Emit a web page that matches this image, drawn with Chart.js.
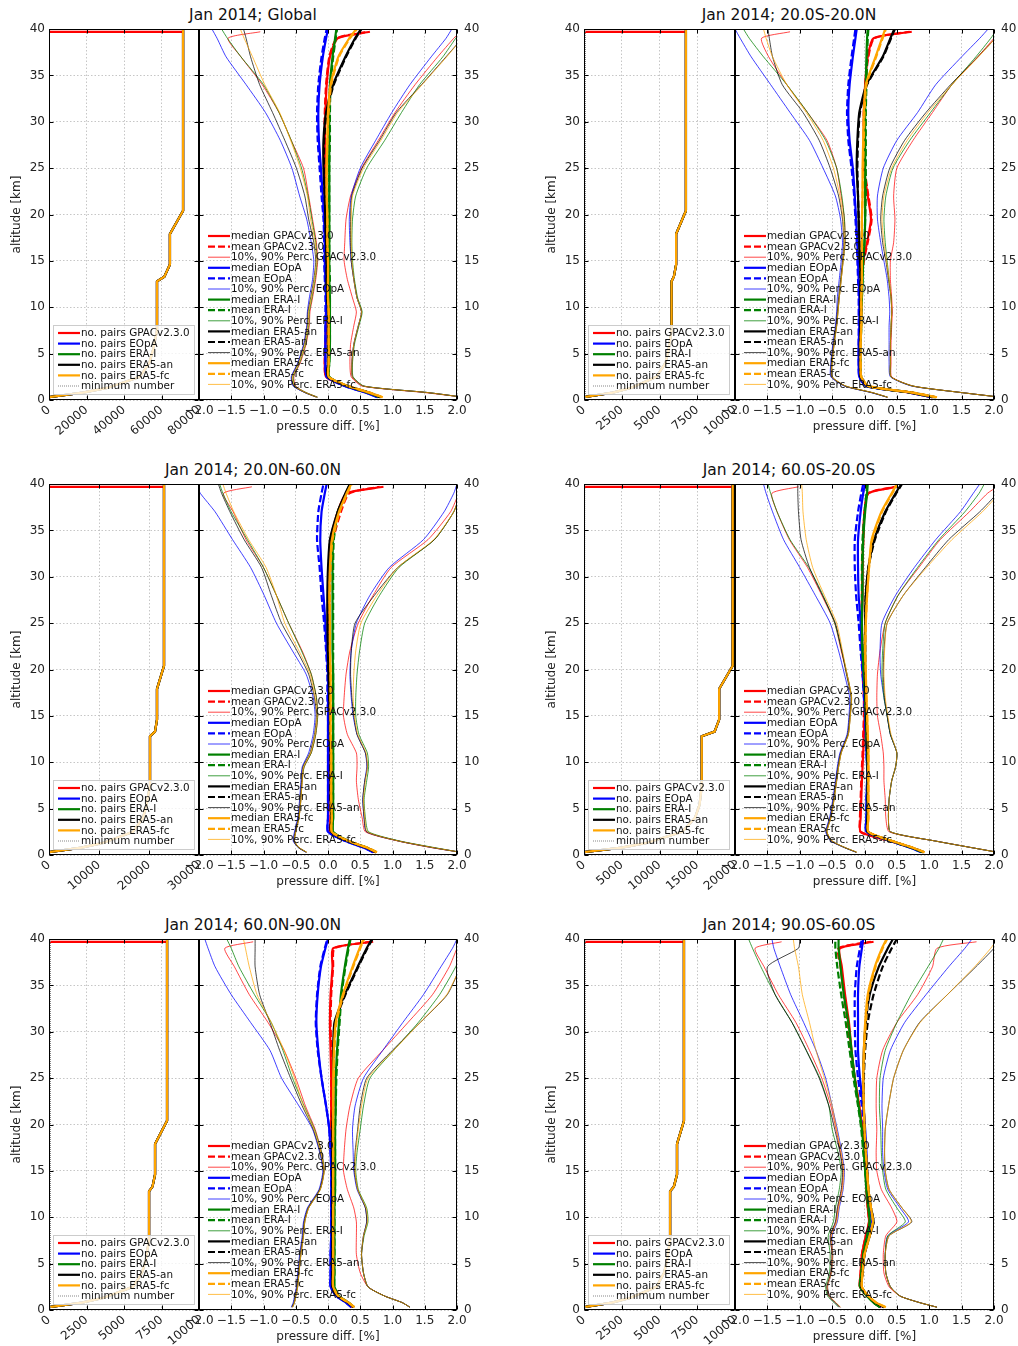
<!DOCTYPE html>
<html>
<head>
<meta charset="utf-8">
<script src="https://cdn.jsdelivr.net/npm/chart.js@4.4.1/dist/chart.umd.min.js"></script>
<style>
  body { margin: 0; background: #fff; }
  #page { position: relative; width: 1018px; height: 1346px; overflow: hidden; font-family: "DejaVu Sans", sans-serif; }
  #page canvas { position: absolute; }
  .title { position: absolute; text-align: center; font-size: 15.5px; line-height: 20px; color: #111; }
</style>
</head>
<body>
<div id="page"></div>
<script>
// ---- data ----
const sources = ["GPACv2.3.0", "EOpA", "ERA-I", "ERA5-an", "ERA5-fc"];
const panelTitles = ["Jan 2014; Global", "Jan 2014; 20.0S-20.0N", "Jan 2014; 20.0N-60.0N",
                     "Jan 2014; 60.0S-20.0S", "Jan 2014; 60.0N-90.0N", "Jan 2014; 90.0S-60.0S"];

// altitude levels [km] of the pressure difference profiles (GPAC stops at 39.7 km)
const altitudes     = [0.3, 0.8, 1.5, 2.5, 4, 6, 8, 9.5, 11, 13, 15, 17, 19.5, 22, 25, 28, 31, 34, 37, 39, 40];
const gpacAltitudes = [0.3, 0.8, 1.5, 2.5, 4, 6, 8, 9.5, 11, 13, 15, 17, 19.5, 22, 25, 28, 31, 34, 37, 39, 39.7];

// number of pairs profiles
const pairAlt     = [0.3, 0.8, 1.3, 2.5, 4, 5.4, 7.5, 12.8, 13.3, 14.6, 17.9, 20.4, 40];
const gpacPairAlt = [0.3, 0.8, 1.3, 2.5, 4, 5.4, 7.5, 12.8, 13.3, 14.6, 17.9, 20.4, 39.7, 39.7, 40];
const globalPairs         = [0, 18000, 31000, 48500, 53500, 55500, 57600, 57600, 61500, 64500, 64500, 71500, 71500];
const globalGpacPairs     = [0, 18000, 31000, 48500, 53500, 55500, 57600, 57600, 61500, 64500, 64500, 71500, 71500, 0, 0];
const tropicsPairs        = [0, 1900, 3100, 4800, 5400, 5600, 5800, 5800, 5950, 6100, 6100, 6750, 6750];
const tropicsGpacPairs    = [0, 1900, 3100, 4800, 5400, 5600, 5800, 5800, 5950, 6100, 6100, 6750, 6750, 0, 0];
const northMidPairs       = [0, 6500, 10800, 16800, 18800, 19500, 20200, 20200, 21200, 21600, 21600, 23000, 23000];
const northMidGpacPairs   = [0, 6500, 10800, 16800, 18800, 19500, 20200, 20200, 21200, 21600, 21600, 23000, 23000, 0, 0];
const southMidPairs       = [0, 5000, 8300, 13000, 14700, 15300, 15600, 15600, 17300, 17900, 17900, 19700, 19700];
const southMidGpacPairs   = [0, 5000, 8300, 13000, 14700, 15300, 15600, 15600, 17300, 17900, 17900, 19700, 19700, 0, 0];
const northPolarPairs     = [0, 2200, 3600, 5600, 6200, 6450, 6670, 6670, 6900, 7070, 7070, 7870, 7870];
const northPolarGpacPairs = [0, 2200, 3600, 5600, 6200, 6450, 6670, 6670, 6900, 7070, 7070, 7870, 7870, 0, 0];
const southPolarPairs     = [0, 1850, 3050, 4800, 5300, 5500, 5700, 5700, 5950, 6160, 6160, 6620, 6620];
const southPolarGpacPairs = [0, 1850, 3050, 4800, 5300, 5500, 5700, 5700, 5950, 6160, 6160, 6620, 6620, 0, 0];
const minimumPairsAlt = [0, 40];
const minimumPairs = [100, 100];
const pairAxisMax  = [80000, 10000, 30000, 20000, 10000, 10000];
const pairAxisStep = [20000, 2500, 10000, 5000, 2500, 2500];
const diffTicks = [-2.0, -1.5, -1.0, -0.5, 0.0, 0.5, 1.0, 1.5, 2.0];

// pressure diff [%]; rows: GPAC, EOpA, ERA-I, ERA5-an, ERA5-fc
const globalMedian = [
  [0.78, 0.6, 0.28, -0.03, -0.05, -0.04, -0.03, -0.03, -0.02, -0.02, -0.02, -0.03, -0.04, -0.05, -0.05, -0.05, -0.04, -0.02, 0.03, 0.15, 0.65],
  [0.76, 0.58, 0.26, -0.02, -0.04, -0.04, -0.04, -0.03, -0.03, -0.04, -0.05, -0.05, -0.06, -0.08, -0.11, -0.14, -0.15, -0.13, -0.08, -0.03, 0.0],
  [0.8, 0.62, 0.3, 0.02, 0.02, 0.03, 0.03, 0.03, 0.03, 0.02, 0.02, 0.02, 0.02, 0.02, 0.02, 0.02, 0.02, 0.03, 0.07, 0.11, 0.13],
  [0.82, 0.63, 0.3, 0.0, 0.0, 0.0, 0.0, 0.0, -0.01, -0.02, -0.02, -0.03, -0.04, -0.05, -0.07, -0.07, -0.03, 0.08, 0.27, 0.42, 0.51],
  [0.84, 0.64, 0.31, 0.01, 0.01, 0.01, 0.01, 0.01, 0.0, 0.0, 0.0, -0.01, -0.01, -0.02, -0.02, -0.01, 0.0, 0.04, 0.16, 0.33, 0.44]];
const globalMean = [
  [0.8, 0.61, 0.28, -0.03, -0.05, -0.04, -0.03, -0.03, -0.02, -0.02, -0.03, -0.03, -0.04, -0.05, -0.06, -0.06, -0.05, -0.03, 0.02, 0.14, 0.62],
  [0.77, 0.59, 0.26, -0.02, -0.04, -0.04, -0.04, -0.04, -0.04, -0.05, -0.06, -0.06, -0.07, -0.1, -0.13, -0.16, -0.17, -0.15, -0.1, -0.05, -0.02],
  [0.81, 0.62, 0.3, 0.02, 0.02, 0.03, 0.03, 0.03, 0.03, 0.03, 0.02, 0.02, 0.02, 0.02, 0.02, 0.03, 0.03, 0.04, 0.08, 0.12, 0.14],
  [0.83, 0.64, 0.31, 0.0, 0.0, 0.0, 0.0, 0.0, -0.01, -0.02, -0.02, -0.03, -0.04, -0.05, -0.06, -0.06, -0.02, 0.09, 0.28, 0.43, 0.52],
  [0.85, 0.65, 0.31, 0.01, 0.01, 0.01, 0.01, 0.01, 0.0, 0.0, 0.0, -0.01, -0.01, -0.02, -0.02, -0.01, 0.01, 0.05, 0.17, 0.34, 0.45]];
const globalP10 = [
  [-0.16, -0.34, -0.5, -0.53, -0.43, -0.34, -0.29, -0.28, -0.24, -0.19, -0.16, -0.18, -0.24, -0.3, -0.38, -0.57, -0.76, -1.02, -1.35, -1.55, -1.05],
  [-0.17, -0.36, -0.54, -0.57, -0.47, -0.38, -0.33, -0.32, -0.29, -0.24, -0.22, -0.26, -0.33, -0.44, -0.56, -0.74, -0.97, -1.27, -1.58, -1.72, -1.8],
  [-0.16, -0.34, -0.51, -0.54, -0.44, -0.35, -0.3, -0.29, -0.25, -0.2, -0.17, -0.19, -0.25, -0.31, -0.41, -0.57, -0.76, -1.0, -1.35, -1.56, -1.65],
  [-0.18, -0.36, -0.53, -0.56, -0.46, -0.37, -0.32, -0.31, -0.27, -0.22, -0.19, -0.22, -0.3, -0.36, -0.49, -0.67, -0.86, -1.06, -1.2, -1.27, -1.31],
  [-0.17, -0.35, -0.52, -0.55, -0.45, -0.36, -0.31, -0.3, -0.26, -0.21, -0.18, -0.2, -0.27, -0.32, -0.43, -0.58, -0.75, -0.98, -1.17, -1.3, -1.36]];
const globalP90 = [
  [2.1, 1.5, 0.53, 0.36, 0.34, 0.35, 0.4, 0.44, 0.38, 0.3, 0.25, 0.26, 0.28, 0.35, 0.52, 0.78, 1.04, 1.35, 1.7, 1.95, 2.05],
  [2.1, 1.55, 0.55, 0.38, 0.37, 0.4, 0.47, 0.52, 0.45, 0.4, 0.36, 0.34, 0.33, 0.36, 0.5, 0.74, 0.99, 1.27, 1.6, 1.83, 1.92],
  [2.1, 1.55, 0.56, 0.39, 0.38, 0.41, 0.48, 0.53, 0.46, 0.41, 0.38, 0.37, 0.38, 0.43, 0.6, 0.88, 1.14, 1.42, 1.78, 1.98, 2.08],
  [2.1, 1.55, 0.55, 0.38, 0.37, 0.4, 0.47, 0.52, 0.45, 0.4, 0.36, 0.35, 0.35, 0.37, 0.53, 0.8, 1.06, 1.45, 1.83, 2.08, 2.2],
  [2.1, 1.55, 0.55, 0.38, 0.37, 0.4, 0.47, 0.52, 0.45, 0.4, 0.37, 0.36, 0.36, 0.38, 0.55, 0.82, 1.08, 1.46, 1.84, 2.08, 2.2]];

const tropicsMedian = [
  [1.05, 0.7, 0.05, -0.06, -0.07, -0.07, -0.06, -0.05, -0.05, -0.04, -0.02, 0.04, 0.1, 0.05, -0.01, -0.01, -0.01, 0.01, 0.05, 0.14, 0.73],
  [1.05, 0.7, 0.03, -0.08, -0.09, -0.09, -0.08, -0.08, -0.08, -0.09, -0.1, -0.11, -0.13, -0.15, -0.18, -0.23, -0.25, -0.23, -0.18, -0.14, -0.12],
  [1.08, 0.72, 0.05, -0.05, -0.06, -0.06, -0.05, -0.05, -0.04, -0.03, -0.02, 0.0, 0.01, 0.01, 0.01, 0.01, 0.01, 0.02, 0.03, 0.04, 0.05],
  [1.1, 0.73, 0.05, -0.06, -0.07, -0.07, -0.06, -0.06, -0.06, -0.06, -0.07, -0.08, -0.09, -0.1, -0.12, -0.11, -0.08, 0.03, 0.28, 0.4, 0.46],
  [1.11, 0.74, 0.06, -0.05, -0.06, -0.06, -0.05, -0.05, -0.05, -0.04, -0.04, -0.04, -0.04, -0.03, -0.03, -0.02, -0.01, 0.02, 0.17, 0.27, 0.32]];
const tropicsMean = [
  [1.06, 0.71, 0.05, -0.05, -0.07, -0.07, -0.06, -0.05, -0.05, -0.04, -0.01, 0.05, 0.11, 0.06, 0.0, -0.01, -0.01, 0.01, 0.06, 0.15, 0.7],
  [1.05, 0.7, 0.03, -0.08, -0.09, -0.09, -0.09, -0.09, -0.09, -0.1, -0.11, -0.12, -0.14, -0.16, -0.2, -0.25, -0.27, -0.25, -0.2, -0.16, -0.14],
  [1.08, 0.72, 0.05, -0.05, -0.06, -0.06, -0.05, -0.05, -0.04, -0.03, -0.02, 0.0, 0.01, 0.02, 0.02, 0.02, 0.02, 0.03, 0.04, 0.05, 0.06],
  [1.1, 0.73, 0.05, -0.06, -0.07, -0.07, -0.06, -0.06, -0.06, -0.06, -0.07, -0.08, -0.09, -0.1, -0.11, -0.1, -0.07, 0.04, 0.29, 0.41, 0.47],
  [1.12, 0.75, 0.06, -0.05, -0.06, -0.06, -0.05, -0.05, -0.05, -0.04, -0.04, -0.04, -0.04, -0.03, -0.02, -0.01, 0.0, 0.03, 0.18, 0.28, 0.33]];
const tropicsP10 = [
  [0.36, 0.12, -0.29, -0.5, -0.5, -0.47, -0.43, -0.41, -0.39, -0.36, -0.33, -0.3, -0.31, -0.36, -0.43, -0.58, -0.88, -1.2, -1.48, -1.59, -1.15],
  [0.35, 0.1, -0.31, -0.52, -0.52, -0.49, -0.45, -0.43, -0.42, -0.39, -0.36, -0.34, -0.37, -0.45, -0.64, -0.85, -1.15, -1.45, -1.75, -1.92, -2.0],
  [0.36, 0.12, -0.29, -0.5, -0.5, -0.47, -0.43, -0.41, -0.39, -0.36, -0.33, -0.3, -0.31, -0.35, -0.43, -0.6, -0.88, -1.2, -1.56, -1.78, -1.87],
  [0.35, 0.11, -0.3, -0.51, -0.51, -0.48, -0.44, -0.42, -0.4, -0.37, -0.34, -0.32, -0.34, -0.4, -0.53, -0.7, -0.95, -1.27, -1.42, -1.47, -1.49],
  [0.36, 0.12, -0.29, -0.5, -0.5, -0.47, -0.43, -0.41, -0.39, -0.36, -0.33, -0.31, -0.33, -0.38, -0.48, -0.64, -0.9, -1.2, -1.42, -1.52, -1.56]];
const tropicsP90 = [
  [2.1, 1.5, 0.75, 0.42, 0.41, 0.41, 0.42, 0.43, 0.42, 0.4, 0.4, 0.45, 0.47, 0.45, 0.5, 0.75, 1.05, 1.35, 1.75, 2.0, 2.1],
  [2.1, 1.5, 0.73, 0.4, 0.38, 0.38, 0.38, 0.39, 0.38, 0.35, 0.3, 0.25, 0.2, 0.2, 0.29, 0.5, 0.82, 1.1, 1.5, 1.78, 1.91],
  [2.1, 1.5, 0.75, 0.41, 0.4, 0.4, 0.41, 0.42, 0.41, 0.38, 0.35, 0.32, 0.3, 0.33, 0.44, 0.7, 1.02, 1.35, 1.72, 1.95, 2.05],
  [2.1, 1.5, 0.75, 0.41, 0.4, 0.4, 0.41, 0.42, 0.41, 0.37, 0.33, 0.28, 0.25, 0.28, 0.39, 0.62, 0.95, 1.33, 1.75, 2.02, 2.12],
  [2.1, 1.5, 0.75, 0.41, 0.4, 0.4, 0.41, 0.42, 0.41, 0.38, 0.34, 0.3, 0.27, 0.3, 0.42, 0.66, 0.98, 1.35, 1.76, 2.02, 2.12]];

const northMidMedian = [
  [0.73, 0.58, 0.3, 0.04, 0.04, 0.04, 0.04, 0.04, 0.04, 0.03, 0.03, 0.02, 0.02, 0.02, 0.02, 0.02, 0.02, 0.04, 0.15, 0.29, 0.86],
  [0.7, 0.55, 0.27, 0.0, 0.0, 0.0, 0.0, 0.0, 0.0, 0.0, 0.0, 0.0, 0.0, -0.02, -0.04, -0.07, -0.1, -0.12, -0.1, -0.05, -0.02],
  [0.75, 0.6, 0.32, 0.08, 0.08, 0.08, 0.08, 0.08, 0.08, 0.08, 0.08, 0.08, 0.08, 0.07, 0.07, 0.07, 0.07, 0.08, 0.15, 0.28, 0.34],
  [0.74, 0.59, 0.31, 0.05, 0.05, 0.04, 0.04, 0.04, 0.04, 0.03, 0.03, 0.02, 0.01, 0.0, -0.01, -0.01, 0.0, 0.03, 0.15, 0.27, 0.34],
  [0.75, 0.6, 0.32, 0.06, 0.06, 0.05, 0.05, 0.05, 0.05, 0.04, 0.04, 0.04, 0.04, 0.03, 0.03, 0.02, 0.03, 0.06, 0.17, 0.29, 0.36]];
const northMidMean = [
  [0.74, 0.58, 0.3, 0.04, 0.04, 0.04, 0.04, 0.04, 0.04, 0.03, 0.03, 0.02, 0.02, 0.02, 0.02, 0.03, 0.04, 0.08, 0.2, 0.33, 0.8],
  [0.7, 0.55, 0.27, 0.0, 0.0, 0.0, 0.0, 0.0, 0.0, 0.0, 0.0, -0.01, -0.01, -0.03, -0.06, -0.1, -0.13, -0.17, -0.15, -0.1, -0.07],
  [0.75, 0.6, 0.32, 0.08, 0.08, 0.08, 0.08, 0.08, 0.08, 0.08, 0.08, 0.08, 0.08, 0.08, 0.08, 0.08, 0.08, 0.09, 0.16, 0.29, 0.35],
  [0.74, 0.59, 0.31, 0.05, 0.05, 0.04, 0.04, 0.04, 0.04, 0.03, 0.03, 0.02, 0.01, 0.0, 0.0, 0.0, 0.01, 0.04, 0.16, 0.28, 0.35],
  [0.76, 0.61, 0.32, 0.06, 0.06, 0.05, 0.05, 0.05, 0.05, 0.04, 0.04, 0.04, 0.04, 0.03, 0.03, 0.03, 0.04, 0.07, 0.18, 0.3, 0.37]];
const northMidP10 = [
  [-0.33, -0.45, -0.52, -0.5, -0.45, -0.42, -0.4, -0.37, -0.26, -0.19, -0.16, -0.18, -0.26, -0.4, -0.61, -0.8, -1.0, -1.27, -1.47, -1.62, -1.18],
  [-0.34, -0.46, -0.54, -0.52, -0.47, -0.44, -0.42, -0.4, -0.3, -0.23, -0.2, -0.23, -0.34, -0.55, -0.8, -0.99, -1.2, -1.48, -1.75, -1.98, -2.05],
  [-0.33, -0.45, -0.52, -0.5, -0.45, -0.42, -0.4, -0.37, -0.26, -0.19, -0.16, -0.18, -0.26, -0.41, -0.61, -0.8, -1.0, -1.25, -1.5, -1.63, -1.68],
  [-0.34, -0.46, -0.53, -0.51, -0.46, -0.43, -0.41, -0.39, -0.28, -0.21, -0.18, -0.21, -0.3, -0.48, -0.72, -0.88, -1.03, -1.3, -1.52, -1.65, -1.7],
  [-0.33, -0.45, -0.52, -0.5, -0.45, -0.42, -0.4, -0.38, -0.27, -0.2, -0.17, -0.2, -0.28, -0.45, -0.67, -0.8, -0.96, -1.23, -1.46, -1.58, -1.63]];
const northMidP90 = [
  [2.05, 1.6, 1.09, 0.58, 0.53, 0.47, 0.44, 0.45, 0.44, 0.3, 0.24, 0.25, 0.28, 0.34, 0.47, 0.7, 0.98, 1.55, 1.9, 2.03, 2.1],
  [2.05, 1.62, 1.1, 0.6, 0.56, 0.54, 0.57, 0.6, 0.58, 0.45, 0.39, 0.36, 0.34, 0.36, 0.44, 0.65, 0.95, 1.48, 1.8, 1.95, 2.0],
  [2.05, 1.65, 1.12, 0.63, 0.58, 0.56, 0.6, 0.63, 0.61, 0.48, 0.43, 0.43, 0.45, 0.49, 0.57, 0.8, 1.1, 1.65, 1.95, 2.05, 2.1],
  [2.05, 1.62, 1.1, 0.6, 0.56, 0.54, 0.57, 0.61, 0.58, 0.45, 0.4, 0.37, 0.35, 0.36, 0.42, 0.72, 1.08, 1.65, 1.95, 2.05, 2.1],
  [2.05, 1.63, 1.1, 0.61, 0.57, 0.55, 0.58, 0.61, 0.59, 0.46, 0.41, 0.39, 0.4, 0.43, 0.51, 0.76, 1.08, 1.64, 1.95, 2.05, 2.1]];

const southMidMedian = [
  [0.9, 0.72, 0.4, -0.06, -0.06, -0.05, -0.04, -0.03, -0.02, -0.01, 0.0, 0.0, -0.02, -0.03, -0.04, -0.03, -0.03, -0.02, 0.0, 0.06, 0.5],
  [0.88, 0.7, 0.4, 0.03, 0.03, 0.03, 0.04, 0.04, 0.03, 0.02, 0.01, 0.0, -0.02, -0.04, -0.06, -0.09, -0.1, -0.1, -0.06, -0.02, 0.01],
  [0.9, 0.72, 0.42, 0.05, 0.05, 0.05, 0.05, 0.05, 0.04, 0.03, 0.02, 0.01, -0.01, -0.03, -0.04, -0.03, -0.03, -0.02, 0.01, 0.04, 0.05],
  [0.92, 0.73, 0.42, 0.05, 0.05, 0.05, 0.05, 0.05, 0.05, 0.04, 0.03, 0.02, 0.01, 0.01, 0.01, 0.02, 0.06, 0.15, 0.32, 0.48, 0.57],
  [0.92, 0.74, 0.43, 0.06, 0.06, 0.06, 0.06, 0.06, 0.06, 0.05, 0.04, 0.03, 0.02, 0.01, 0.02, 0.04, 0.07, 0.11, 0.26, 0.42, 0.5]];
const southMidMean = [
  [0.9, 0.72, 0.4, -0.06, -0.07, -0.06, -0.05, -0.04, -0.03, -0.02, -0.01, -0.01, -0.03, -0.04, -0.05, -0.04, -0.03, -0.02, 0.0, 0.06, 0.47],
  [0.88, 0.7, 0.4, 0.03, 0.03, 0.03, 0.04, 0.04, 0.03, 0.02, 0.01, -0.01, -0.03, -0.06, -0.09, -0.13, -0.15, -0.15, -0.1, -0.05, -0.02],
  [0.9, 0.72, 0.42, 0.05, 0.05, 0.05, 0.05, 0.05, 0.04, 0.03, 0.02, 0.01, -0.01, -0.03, -0.04, -0.04, -0.04, -0.03, 0.0, 0.03, 0.04],
  [0.92, 0.73, 0.42, 0.05, 0.05, 0.05, 0.05, 0.05, 0.05, 0.04, 0.03, 0.02, 0.01, 0.01, 0.01, 0.02, 0.06, 0.16, 0.33, 0.49, 0.58],
  [0.93, 0.74, 0.43, 0.06, 0.06, 0.06, 0.06, 0.06, 0.06, 0.05, 0.04, 0.03, 0.02, 0.01, 0.02, 0.04, 0.07, 0.12, 0.27, 0.43, 0.51]];
const southMidP10 = [
  [-0.12, -0.3, -0.5, -0.58, -0.52, -0.47, -0.43, -0.4, -0.36, -0.25, -0.22, -0.2, -0.27, -0.36, -0.46, -0.66, -0.88, -1.16, -1.35, -1.43, -1.02],
  [-0.13, -0.31, -0.52, -0.6, -0.54, -0.49, -0.45, -0.42, -0.38, -0.27, -0.24, -0.23, -0.31, -0.4, -0.53, -0.76, -1.0, -1.25, -1.42, -1.52, -1.56],
  [-0.12, -0.3, -0.5, -0.58, -0.52, -0.47, -0.43, -0.4, -0.36, -0.25, -0.22, -0.2, -0.27, -0.35, -0.46, -0.64, -0.86, -1.15, -1.35, -1.45, -1.49],
  [-0.13, -0.31, -0.51, -0.59, -0.53, -0.48, -0.44, -0.41, -0.37, -0.26, -0.23, -0.21, -0.28, -0.35, -0.45, -0.65, -0.85, -0.98, -1.02, -1.03, -1.03],
  [-0.12, -0.3, -0.5, -0.58, -0.52, -0.47, -0.43, -0.4, -0.36, -0.25, -0.22, -0.2, -0.27, -0.34, -0.43, -0.62, -0.8, -0.9, -0.95, -0.96, -0.97]];
const southMidP90 = [
  [2.05, 1.65, 1.1, 0.38, 0.33, 0.32, 0.3, 0.3, 0.29, 0.25, 0.2, 0.19, 0.2, 0.24, 0.32, 0.52, 0.84, 1.17, 1.62, 1.9, 2.05],
  [2.05, 1.65, 1.1, 0.4, 0.37, 0.38, 0.42, 0.48, 0.5, 0.4, 0.35, 0.3, 0.25, 0.24, 0.27, 0.48, 0.77, 1.1, 1.48, 1.68, 1.78],
  [2.05, 1.65, 1.1, 0.4, 0.37, 0.38, 0.42, 0.48, 0.5, 0.4, 0.35, 0.3, 0.27, 0.28, 0.32, 0.52, 0.82, 1.15, 1.55, 1.77, 1.85],
  [2.05, 1.65, 1.1, 0.4, 0.37, 0.38, 0.42, 0.48, 0.5, 0.4, 0.35, 0.31, 0.29, 0.3, 0.35, 0.6, 0.94, 1.3, 1.78, 2.05, 2.15],
  [2.05, 1.65, 1.1, 0.4, 0.37, 0.38, 0.42, 0.48, 0.5, 0.41, 0.36, 0.32, 0.3, 0.31, 0.35, 0.6, 0.96, 1.35, 1.82, 2.08, 2.15]];

const northPolarMedian = [
  [0.38, 0.3, 0.15, 0.06, 0.06, 0.06, 0.07, 0.07, 0.07, 0.07, 0.07, 0.06, 0.05, 0.05, 0.05, 0.04, 0.03, 0.04, 0.07, 0.08, 0.7],
  [0.36, 0.28, 0.13, 0.04, 0.04, 0.04, 0.05, 0.05, 0.05, 0.05, 0.05, 0.04, 0.02, -0.03, -0.1, -0.15, -0.18, -0.16, -0.11, -0.04, 0.0],
  [0.4, 0.32, 0.17, 0.1, 0.1, 0.1, 0.1, 0.1, 0.1, 0.11, 0.11, 0.11, 0.11, 0.12, 0.12, 0.14, 0.17, 0.2, 0.26, 0.31, 0.34],
  [0.4, 0.31, 0.15, 0.07, 0.07, 0.07, 0.07, 0.07, 0.07, 0.07, 0.07, 0.07, 0.07, 0.08, 0.08, 0.08, 0.1, 0.26, 0.46, 0.6, 0.68],
  [0.41, 0.32, 0.16, 0.08, 0.08, 0.08, 0.08, 0.08, 0.08, 0.08, 0.08, 0.08, 0.08, 0.08, 0.08, 0.09, 0.12, 0.23, 0.38, 0.49, 0.55]];
const northPolarMean = [
  [0.39, 0.3, 0.15, 0.06, 0.06, 0.06, 0.07, 0.07, 0.07, 0.07, 0.07, 0.06, 0.05, 0.05, 0.05, 0.05, 0.04, 0.05, 0.08, 0.1, 0.66],
  [0.36, 0.28, 0.13, 0.04, 0.04, 0.04, 0.05, 0.05, 0.05, 0.05, 0.05, 0.04, 0.02, -0.03, -0.1, -0.16, -0.19, -0.17, -0.12, -0.05, -0.01],
  [0.4, 0.32, 0.17, 0.1, 0.1, 0.1, 0.1, 0.1, 0.1, 0.11, 0.11, 0.11, 0.11, 0.12, 0.13, 0.15, 0.18, 0.21, 0.27, 0.32, 0.35],
  [0.41, 0.31, 0.15, 0.07, 0.07, 0.07, 0.07, 0.07, 0.07, 0.07, 0.07, 0.07, 0.07, 0.08, 0.08, 0.09, 0.11, 0.27, 0.47, 0.61, 0.69],
  [0.41, 0.32, 0.16, 0.08, 0.08, 0.08, 0.08, 0.08, 0.08, 0.08, 0.08, 0.08, 0.08, 0.08, 0.09, 0.1, 0.13, 0.24, 0.39, 0.5, 0.56]];
const northPolarP10 = [
  [-0.55, -0.52, -0.5, -0.47, -0.45, -0.42, -0.38, -0.36, -0.3, -0.12, -0.06, -0.1, -0.2, -0.35, -0.5, -0.68, -0.93, -1.22, -1.45, -1.6, -1.16],
  [-0.57, -0.54, -0.52, -0.49, -0.47, -0.44, -0.4, -0.38, -0.32, -0.14, -0.08, -0.13, -0.24, -0.45, -0.72, -0.9, -1.2, -1.5, -1.75, -1.86, -1.91],
  [-0.55, -0.52, -0.5, -0.47, -0.45, -0.42, -0.38, -0.36, -0.3, -0.12, -0.06, -0.1, -0.21, -0.37, -0.55, -0.7, -0.88, -1.14, -1.38, -1.5, -1.57],
  [-0.56, -0.53, -0.51, -0.48, -0.46, -0.43, -0.39, -0.37, -0.31, -0.13, -0.07, -0.12, -0.23, -0.4, -0.58, -0.75, -0.9, -1.06, -1.13, -1.13, -1.13],
  [-0.55, -0.52, -0.5, -0.47, -0.45, -0.42, -0.38, -0.36, -0.3, -0.12, -0.06, -0.11, -0.22, -0.38, -0.52, -0.68, -0.88, -1.1, -1.22, -1.28, -1.31]];
const northPolarP90 = [
  [1.27, 1.15, 0.88, 0.62, 0.5, 0.44, 0.44, 0.44, 0.4, 0.3, 0.24, 0.25, 0.28, 0.34, 0.47, 0.85, 1.24, 1.62, 1.88, 2.0, 2.05],
  [1.27, 1.15, 0.88, 0.62, 0.55, 0.52, 0.55, 0.6, 0.58, 0.45, 0.4, 0.39, 0.38, 0.42, 0.55, 0.85, 1.16, 1.48, 1.75, 1.93, 2.0],
  [1.27, 1.15, 0.88, 0.62, 0.55, 0.52, 0.56, 0.62, 0.6, 0.47, 0.43, 0.45, 0.5, 0.55, 0.65, 1.02, 1.4, 1.73, 1.98, 2.1, 2.15],
  [1.27, 1.15, 0.88, 0.62, 0.55, 0.52, 0.55, 0.6, 0.58, 0.46, 0.41, 0.42, 0.46, 0.5, 0.6, 1.0, 1.43, 1.85, 2.05, 2.15, 2.2],
  [1.27, 1.15, 0.88, 0.62, 0.55, 0.52, 0.55, 0.61, 0.59, 0.46, 0.42, 0.43, 0.47, 0.52, 0.62, 1.02, 1.43, 1.84, 2.05, 2.15, 2.2]];

const southPolarMedian = [
  [0.25, 0.15, 0.05, -0.07, -0.06, -0.04, 0.02, 0.07, 0.05, 0.03, 0.02, 0.0, -0.03, -0.08, -0.15, -0.2, -0.24, -0.3, -0.35, -0.38, 0.14],
  [0.25, 0.15, 0.05, -0.05, -0.03, 0.0, 0.06, 0.11, 0.08, 0.05, 0.04, 0.03, 0.01, -0.02, -0.07, -0.1, -0.1, -0.1, -0.08, -0.04, -0.02],
  [0.24, 0.14, 0.04, -0.07, -0.05, -0.02, 0.04, 0.08, 0.06, 0.03, 0.01, -0.01, -0.04, -0.09, -0.15, -0.2, -0.25, -0.32, -0.37, -0.4, -0.4],
  [0.3, 0.17, 0.06, -0.05, -0.03, 0.0, 0.08, 0.14, 0.1, 0.06, 0.04, 0.02, 0.0, -0.01, -0.02, -0.01, 0.02, 0.08, 0.22, 0.36, 0.44],
  [0.32, 0.18, 0.06, -0.04, -0.03, 0.0, 0.08, 0.13, 0.1, 0.06, 0.04, 0.02, 0.0, -0.01, -0.02, -0.01, 0.01, 0.05, 0.16, 0.27, 0.34]];
const southPolarMean = [
  [0.26, 0.15, 0.05, -0.07, -0.06, -0.04, 0.02, 0.07, 0.05, 0.03, 0.02, 0.0, -0.03, -0.08, -0.15, -0.21, -0.26, -0.32, -0.37, -0.4, 0.1],
  [0.25, 0.15, 0.05, -0.05, -0.03, 0.0, 0.06, 0.11, 0.08, 0.05, 0.04, 0.02, 0.0, -0.04, -0.1, -0.14, -0.15, -0.15, -0.12, -0.07, -0.04],
  [0.24, 0.14, 0.04, -0.07, -0.05, -0.02, 0.04, 0.08, 0.06, 0.03, 0.01, -0.02, -0.05, -0.1, -0.17, -0.23, -0.29, -0.36, -0.42, -0.45, -0.45],
  [0.3, 0.17, 0.06, -0.05, -0.03, 0.0, 0.08, 0.14, 0.1, 0.06, 0.04, 0.02, 0.0, -0.01, -0.01, 0.01, 0.05, 0.14, 0.28, 0.42, 0.5],
  [0.33, 0.18, 0.06, -0.04, -0.03, 0.0, 0.08, 0.13, 0.1, 0.06, 0.04, 0.02, 0.0, -0.01, -0.02, 0.0, 0.02, 0.06, 0.17, 0.28, 0.35]];
const southPolarP10 = [
  [-0.38, -0.45, -0.55, -0.58, -0.52, -0.5, -0.52, -0.44, -0.41, -0.35, -0.33, -0.37, -0.44, -0.52, -0.66, -0.85, -1.06, -1.33, -1.55, -1.69, -1.28],
  [-0.38, -0.45, -0.54, -0.57, -0.51, -0.49, -0.5, -0.42, -0.39, -0.33, -0.31, -0.35, -0.42, -0.5, -0.6, -0.75, -0.94, -1.14, -1.3, -1.4, -1.43],
  [-0.4, -0.47, -0.57, -0.6, -0.54, -0.53, -0.56, -0.48, -0.45, -0.39, -0.36, -0.41, -0.5, -0.55, -0.69, -0.9, -1.12, -1.38, -1.6, -1.73, -1.79],
  [-0.38, -0.45, -0.55, -0.58, -0.52, -0.5, -0.53, -0.45, -0.42, -0.36, -0.34, -0.38, -0.46, -0.55, -0.7, -0.9, -1.12, -1.38, -1.5, -1.02, -1.0],
  [-0.37, -0.44, -0.54, -0.57, -0.51, -0.49, -0.51, -0.43, -0.4, -0.34, -0.32, -0.36, -0.43, -0.5, -0.62, -0.75, -0.85, -0.96, -1.02, -1.08, -1.1]];
const southPolarP90 = [
  [1.12, 0.85, 0.55, 0.38, 0.3, 0.29, 0.33, 0.5, 0.42, 0.26, 0.19, 0.18, 0.19, 0.18, 0.19, 0.28, 0.5, 0.82, 1.05, 1.12, 1.73],
  [1.12, 0.85, 0.55, 0.4, 0.33, 0.32, 0.36, 0.68, 0.55, 0.36, 0.3, 0.28, 0.28, 0.27, 0.29, 0.4, 0.62, 0.95, 1.3, 1.55, 1.66],
  [1.12, 0.85, 0.55, 0.4, 0.33, 0.32, 0.36, 0.63, 0.5, 0.33, 0.28, 0.26, 0.25, 0.23, 0.24, 0.32, 0.5, 0.72, 0.98, 1.15, 1.22],
  [1.12, 0.85, 0.55, 0.4, 0.33, 0.32, 0.38, 0.73, 0.58, 0.38, 0.32, 0.31, 0.32, 0.37, 0.45, 0.6, 0.85, 1.28, 1.72, 2.0, 2.1],
  [1.12, 0.85, 0.55, 0.4, 0.33, 0.32, 0.38, 0.72, 0.58, 0.38, 0.32, 0.31, 0.32, 0.37, 0.45, 0.6, 0.86, 1.28, 1.7, 1.95, 2.05]];

// ---- styling ----
const lineColors = ["#ff0000", "#0000ff", "#008000", "#000000", "#ffa500"];
const percColors = ["rgba(255,0,0,0.72)", "rgba(0,0,255,0.75)", "rgba(0,128,0,0.75)", "rgba(0,0,0,0.72)", "rgba(255,165,0,0.72)"];
const gridColor = "#b8b8b8";
const thick = 2.2, thin = 1, meanDash = [7, 3];

Chart.defaults.font.family = "'DejaVu Sans', sans-serif";
Chart.defaults.font.size = 12;
Chart.defaults.color = "#222";

//frame round the plot area plus inward ticks on all four sides
const axesFrame = {
  id: "axesFrame",
  afterDatasetsDraw(chart) {
    const { ctx, chartArea: a, scales } = chart;
    const L = Math.round(a.left) + 0.5, R = Math.round(a.right) - 0.5;
    const T = Math.round(a.top) + 0.5, B = Math.round(a.bottom) - 0.5;
    ctx.save();
    ctx.strokeStyle = "#000";
    ctx.lineWidth = 1;
    ctx.beginPath();
    scales.x.ticks.forEach((t, i) => {
      const px = Math.round(scales.x.getPixelForTick(i)) + 0.5;
      ctx.moveTo(px, B); ctx.lineTo(px, B - 4);
      ctx.moveTo(px, T); ctx.lineTo(px, T + 4);
    });
    scales.y.ticks.forEach((t, i) => {
      const py = Math.round(scales.y.getPixelForTick(i)) + 0.5;
      ctx.moveTo(L, py); ctx.lineTo(L + 4, py);
      ctx.moveTo(R, py); ctx.lineTo(R - 4, py);
    });
    ctx.stroke();
    ctx.strokeRect(L, T, R - L, B - T);
    ctx.restore();
  }
};

//legend drawn inside the lower left corner of the plot area
const innerLegend = {
  id: "innerLegend",
  afterDraw(chart, args, opts) {
    if (!opts.items) return;
    const { ctx, chartArea: a } = chart;
    const step = 10.6, len = 22;
    const x0 = a.left + 9;
    const y0 = a.bottom - opts.top;
    ctx.save();
    ctx.font = "10.4px 'DejaVu Sans', sans-serif";
    if (opts.frame) {
      const w = Math.max(...opts.items.map(it => ctx.measureText(it.label).width));
      const fx = Math.round(a.left + 4) + 0.5;
      const fy = Math.round(y0 - 8) + 0.5;
      const fw = Math.round(x0 + len + 1 + w + 5 - fx);
      const fh = Math.round(step * (opts.items.length - 1) + 16);
      ctx.fillStyle = "rgba(255,255,255,0.8)";
      ctx.strokeStyle = "#cccccc";
      ctx.lineWidth = 1;
      ctx.fillRect(fx, fy, fw, fh);
      ctx.strokeRect(fx, fy, fw, fh);
    }
    opts.items.forEach((it, i) => {
      const y = y0 + i * step;
      ctx.beginPath();
      ctx.strokeStyle = it.color;
      ctx.lineWidth = it.width;
      ctx.setLineDash(it.dash || []);
      ctx.moveTo(x0, y); ctx.lineTo(x0 + len, y);
      ctx.stroke();
      ctx.setLineDash([]);
      ctx.fillStyle = "#111";
      ctx.textBaseline = "middle";
      ctx.fillText(it.label, x0 + len + 1, y + 0.5);
    });
    ctx.restore();
  }
};

Chart.register(axesFrame, innerLegend);

//force the size of an axis box so plot areas line up exactly
function fixBox(scale, w, h) {
  if (w != null) scale.width = w;
  if (h != null) scale.height = h;
  scale.paddingLeft = scale.paddingRight = scale.paddingTop = scale.paddingBottom = 0;
}

function profile(xs, ys, color, width, dash, order, tension) {
  return {
    data: ys.map((y, i) => ({ x: xs[i], y: y })),
    borderColor: color, borderWidth: width, borderDash: dash || [],
    showLine: true, pointRadius: 0, pointHoverRadius: 0, fill: false, order: order,
    tension: tension || 0
  };
}

const gridOpts = { color: gridColor, lineWidth: 0.8, drawTicks: false };
const borderOpts = { display: false, dash: [1.5, 2] };

const panels = [
  { pairs: globalPairs, gpac: globalGpacPairs, med: globalMedian, mean: globalMean, p10: globalP10, p90: globalP90 },
  { pairs: tropicsPairs, gpac: tropicsGpacPairs, med: tropicsMedian, mean: tropicsMean, p10: tropicsP10, p90: tropicsP90 },
  { pairs: northMidPairs, gpac: northMidGpacPairs, med: northMidMedian, mean: northMidMean, p10: northMidP10, p90: northMidP90 },
  { pairs: southMidPairs, gpac: southMidGpacPairs, med: southMidMedian, mean: southMidMean, p10: southMidP10, p90: southMidP90 },
  { pairs: northPolarPairs, gpac: northPolarGpacPairs, med: northPolarMedian, mean: northPolarMean, p10: northPolarP10, p90: northPolarP90 },
  { pairs: southPolarPairs, gpac: southPolarGpacPairs, med: southPolarMedian, mean: southPolarMean, p10: southPolarP10, p90: southPolarP90 }
];

// page layout: plot area edges in px
const columns = [{ a: 49, b: 199, c: 457 }, { a: 584, b: 735, c: 994 }];
const rowTops = [29, 484, 939];
const plotH = 371;

const leftItems = sources.map((s, i) => ({ label: "no. pairs " + s, color: lineColors[i], width: thick }))
  .concat([{ label: "minimum number", color: "#888", width: 1, dash: [1, 1] }]);
const rightItems = [];
sources.forEach((s, i) => {
  rightItems.push({ label: "median " + s, color: lineColors[i], width: thick });
  rightItems.push({ label: "mean " + s, color: lineColors[i], width: thick, dash: meanDash });
  rightItems.push({ label: "10%, 90% Perc. " + s, color: percColors[i], width: thin });
});

const page = document.getElementById("page");
function addCanvas(left, top, w, h) {
  const c = document.createElement("canvas");
  c.width = w; c.height = h;
  c.style.left = left + "px"; c.style.top = top + "px";
  c.style.width = w + "px"; c.style.height = h + "px";
  page.appendChild(c);
  return c;
}

panels.forEach((p, k) => {
  const col = columns[k % 2];
  const top = rowTops[Math.floor(k / 2)];

  //title over both subplots
  const t = document.createElement("div");
  t.className = "title";
  t.textContent = panelTitles[k];
  t.style.left = col.a + "px";
  t.style.width = (col.c - col.a) + "px";
  t.style.top = (top - 24) + "px";
  page.appendChild(t);

  //left subplot: number of pairs
  const pairSets = [];
  sources.forEach((s, i) => {
    if (i === 0) pairSets.push(profile(p.gpac, gpacPairAlt, lineColors[i], thick, [], 10 - i));
    else pairSets.push(profile(p.pairs, pairAlt, lineColors[i], thick, [], 10 - i));
  });
  pairSets.push(profile(minimumPairs, minimumPairsAlt, "#888", 1, [1, 1], 1));

  const cl = addCanvas(col.a - 49, top - 10, col.b - col.a + 49, plotH + 60);
  new Chart(cl, {
    type: "scatter",
    data: { datasets: pairSets },
    options: {
      responsive: false, animation: false, devicePixelRatio: 1,
      layout: { padding: { top: 10, left: 0, right: 0, bottom: 0 } },
      plugins: {
        legend: { display: false }, tooltip: { enabled: false },
        innerLegend: { items: leftItems, frame: true, top: 67 }
      },
      scales: {
        x: {
          type: "linear", min: 0, max: pairAxisMax[k],
          ticks: { stepSize: pairAxisStep[k], minRotation: 40, maxRotation: 40, autoSkip: false, padding: 3,
                   callback: v => String(v) },
          grid: gridOpts, border: borderOpts,
          afterFit: s => fixBox(s, null, 50)
        },
        y: {
          type: "linear", position: "left", min: 0, max: 40,
          ticks: { stepSize: 5, padding: 4 },
          title: { display: true, text: "altitude [km]", padding: { top: 10, bottom: 0 } },
          grid: gridOpts, border: borderOpts,
          afterFit: s => fixBox(s, 49, null)
        }
      }
    }
  });

  //right subplot: pressure differences
  const diffSets = [];
  let n = 0;
  sources.forEach((s, i) => {
    const alt = i === 0 ? gpacAltitudes : altitudes;
    diffSets.push(profile(p.med[i], alt, lineColors[i], thick, [], 100 - n++, 0.2));
    diffSets.push(profile(p.mean[i], alt, lineColors[i], thick, meanDash, 100 - n++, 0.2));
    diffSets.push(profile(p.p10[i], alt, percColors[i], thin, [], 100 - n++, 0.2));
    diffSets.push(profile(p.p90[i], alt, percColors[i], thin, [], 100 - n++, 0.2));
  });

  const cr = addCanvas(col.b - 40, top - 10, 40 + (col.c - col.b) + 45, plotH + 60);
  new Chart(cr, {
    type: "scatter",
    data: { datasets: diffSets },
    options: {
      responsive: false, animation: false, devicePixelRatio: 1,
      layout: { padding: { top: 10, left: 40, right: 0, bottom: 0 } },
      plugins: {
        legend: { display: false }, tooltip: { enabled: false },
        innerLegend: { items: rightItems, frame: false, top: 164 }
      },
      scales: {
        x: {
          type: "linear", min: diffTicks[0], max: diffTicks[diffTicks.length - 1],
          afterBuildTicks: s => { s.ticks = diffTicks.map(v => ({ value: v })); },
          ticks: { autoSkip: false, maxRotation: 0, padding: 4,
                   callback: v => (v < 0 ? "\u2212" : "") + Math.abs(v).toFixed(1) },
          title: { display: true, text: "pressure diff. [%]", padding: { top: 0, bottom: 16 } },
          grid: gridOpts, border: borderOpts,
          afterFit: s => fixBox(s, null, 50)
        },
        y: {
          type: "linear", position: "right", min: 0, max: 40,
          ticks: { stepSize: 5, padding: 7 },
          grid: gridOpts, border: borderOpts,
          afterFit: s => fixBox(s, 45, null)
        }
      }
    }
  });
});
</script>
</body>
</html>
